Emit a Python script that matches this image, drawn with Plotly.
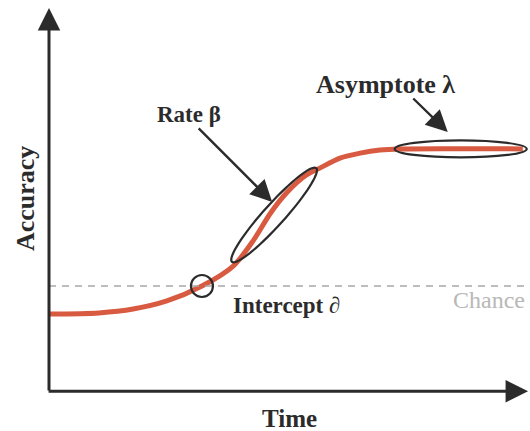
import numpy as np
import plotly.graph_objects as go

# Logistic-shaped learning curve (time in arbitrary units, accuracy in %)
time = [0, 10.4, 17.5, 24.5, 31.8, 38.3, 42.5, 46, 49.5, 53.5, 56.3, 60.5, 64.7, 68.8, 73, 98.5]
accuracy = [20.3, 20.6, 21.6, 23.7, 27.6, 32.8, 39.5, 46.5, 52, 56.5, 58.3, 60.9, 62.2, 63.0, 63.3, 63.3]

chance_level = 27.6
intercept_time = 31.8
rate_center = (46.8, 46.1)
asymptote_level = 63.3
asymptote_center_time = 85.6

labels = ["Rate β", "Asymptote λ", "Intercept ∂", "Chance", "Time", "Accuracy"]

W, H = 530, 431
ML, MR, MT, MB = 49, 0, 8, 39
INK = "#2b2b2b"
CURVE = "#d85a40"
SERIF = "Liberation Serif, Times New Roman, serif"

fig = go.Figure()

# chance line
fig.add_shape(type="line", xref="x", yref="y", x0=0, x1=100,
              y0=chance_level, y1=chance_level,
              line=dict(color="#a8a8a8", width=1.6, dash="7px,6px"))

fig.add_trace(go.Scatter(x=time, y=accuracy, mode="lines",
                         line=dict(color=CURVE, width=5, shape="spline", smoothing=0.8),
                         hoverinfo="skip", showlegend=False))

# intercept circle
fig.add_shape(type="circle", xref="x", yref="y", xsizemode="pixel", ysizemode="pixel",
              xanchor=intercept_time, yanchor=chance_level,
              x0=-11, x1=11, y0=-11, y1=11, line=dict(color=INK, width=2.2))

# asymptote ellipse
fig.add_shape(type="circle", xref="x", yref="y", xsizemode="pixel", ysizemode="pixel",
              xanchor=asymptote_center_time, yanchor=asymptote_level,
              x0=-66, x1=66, y0=-8.5, y1=8.5, line=dict(color=INK, width=2.2))

# tilted ellipse around the steepest part of the curve
a, b, ang = 63.0, 10.5, np.deg2rad(48.0)
t = np.linspace(0, 2 * np.pi, 73)
ex = a * np.cos(t) * np.cos(ang) - b * np.sin(t) * np.sin(ang)
ey = a * np.cos(t) * np.sin(ang) + b * np.sin(t) * np.cos(ang)
path = "M " + " L ".join(f"{x:.2f},{y:.2f}" for x, y in zip(ex, ey)) + " Z"
fig.add_shape(type="path", xref="x", yref="y", xsizemode="pixel", ysizemode="pixel",
              xanchor=rate_center[0], yanchor=rate_center[1], path=path,
              line=dict(color=INK, width=2.2))

def arrow(x, y, ax, ay, width=2.4, size=1.3):
    fig.add_annotation(x=x, y=y, xref="x", yref="y", ax=ax, ay=ay,
                       axref="pixel", ayref="pixel", text="", showarrow=True,
                       arrowhead=2, arrowsize=size, arrowwidth=width,
                       arrowcolor=INK)

# axes drawn as arrows
arrow(0, 100, 0, 384, width=3, size=1.5)
arrow(99.6, 0.2, -481, 0, width=3, size=1.5)

# pointers
arrow(46.4, 49.5, -75, -75, size=1.8)
arrow(82.9, 67.7, -36, -35, size=1.8)

def label(text, x, y, size, color=INK, bold=True, xanchor="center", angle=0, ref="x"):
    fig.add_annotation(x=x, y=y, xref="x" if ref == "x" else "paper",
                       yref="y" if ref == "x" else "paper", showarrow=False,
                       text=f"<b>{text}</b>" if bold else text,
                       font=dict(family=SERIF, size=size, color=color),
                       xanchor=xanchor, yanchor="middle", textangle=angle)

label(labels[0], 29.1, 72.2, 23)
label(labels[1], 69.9, 80.2, 26)
label(labels[2], 49.3, 22.6, 23)
label(labels[3], 0.994, 0.24, 24, color="#b8b8b8", bold=False, xanchor="right", ref="paper")
label(labels[4], 0.501, -0.07, 25, ref="paper")
label(labels[5], -0.05, 0.505, 26, angle=-90, ref="paper")

fig.update_xaxes(range=[0, 100], visible=False, showgrid=False, zeroline=False)
fig.update_yaxes(range=[0, 100], visible=False, showgrid=False, zeroline=False)
fig.update_layout(width=W, height=H, margin=dict(l=ML, r=MR, t=MT, b=MB),
                  paper_bgcolor="white", plot_bgcolor="white", showlegend=False)

fig.write_html("out.html", include_plotlyjs=True, config={"displayModeBar": False})
